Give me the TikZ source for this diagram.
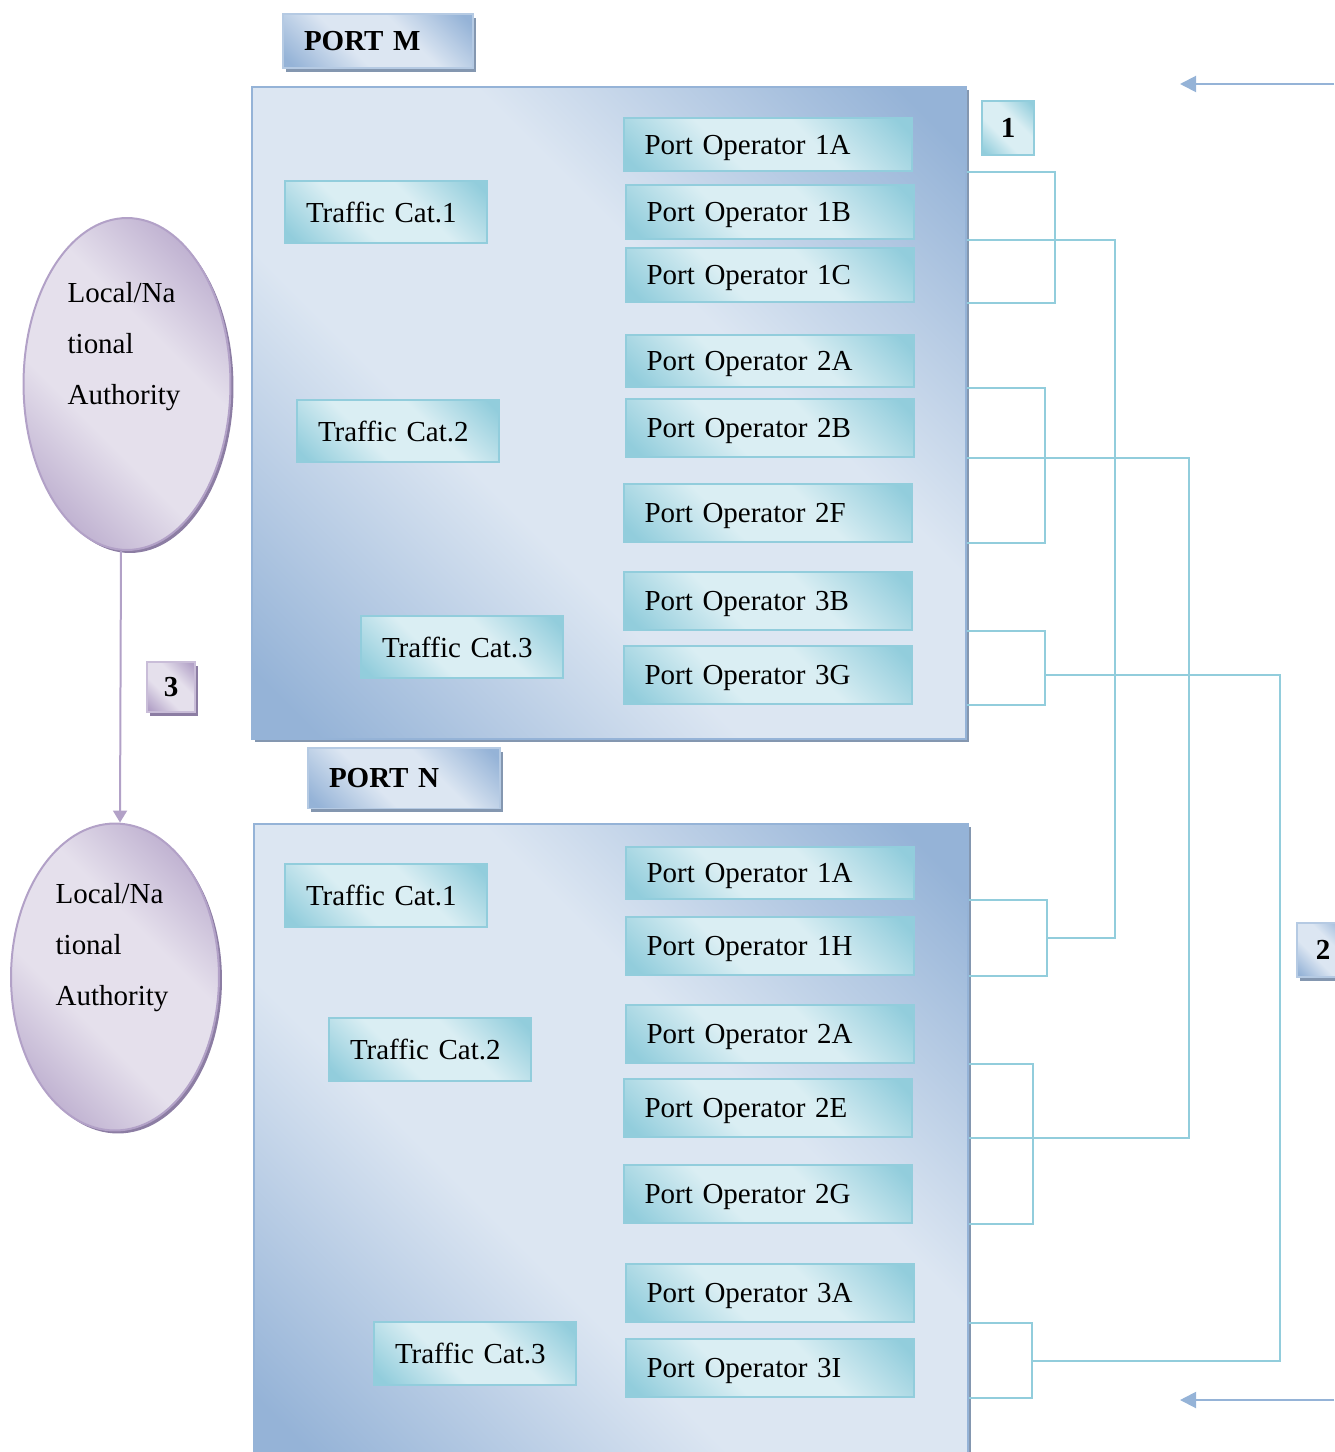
\documentclass[tikz,border=0pt]{standalone}
\usepackage{fontspec}
\setmainfont{Liberation Serif}
\usepackage{xcolor}
\usepackage{tikz}
\usetikzlibrary{shapes, arrows.meta, positioning, calc, shadows}

\definecolor{portblue}{HTML}{95B3D7}
\definecolor{portlight}{HTML}{DCE6F2}
\definecolor{opteal}{HTML}{92CDDC}
\definecolor{oplight}{HTML}{DAEEF3}
\definecolor{lapurple}{HTML}{B2A1C7}
\definecolor{lalight}{HTML}{E5E0EC}
\definecolor{shadowblue}{HTML}{8497B0}
\definecolor{shadowpurple}{HTML}{8C7DA3}

% light band between two coloured corners
\pgfdeclareverticalshading{bandblue}{100bp}{color(0bp)=(portblue); color(18bp)=(portblue);
  color(40bp)=(portlight); color(60bp)=(portlight); color(82bp)=(portblue); color(100bp)=(portblue)}
\pgfdeclareverticalshading{bandteal}{100bp}{color(0bp)=(opteal); color(18bp)=(opteal);
  color(40bp)=(oplight); color(60bp)=(oplight); color(82bp)=(opteal); color(100bp)=(opteal)}
\pgfdeclareverticalshading{bandpurple}{100bp}{color(0bp)=(lapurple); color(18bp)=(lapurple);
  color(40bp)=(lalight); color(60bp)=(lalight); color(82bp)=(lapurple); color(100bp)=(lapurple)}

\tikzset{
  boxfont/.style={font=\fontsize{16.5}{20}\selectfont},
  opbox/.style={draw=opteal, line width=0.04cm, shade, shading=bandteal, shading angle=-45,
    boxfont, align=left, inner xsep=0.42cm, text width=4.94cm, text depth=0pt,
    minimum height=1.16cm},
  catbox/.style={opbox, text width=3.2cm, minimum height=1.26cm},
  bigbox/.style={draw=portblue, line width=0.04cm, shade, shading=bandblue, shading angle=-45,
    minimum width=14.28cm, minimum height=13.06cm,
    drop shadow={shadow xshift=0.06cm, shadow yshift=-0.06cm, fill=shadowblue, opacity=1}},
  portbox/.style={draw=portblue!70, line width=0.04cm, shade, shading=bandblue, shading angle=-45,
    font=\fontsize{16.5}{20}\selectfont\bfseries, align=left, inner xsep=0.42cm,
    text width=2.96cm, text depth=0pt, minimum height=1.08cm,
    drop shadow={shadow xshift=0.06cm, shadow yshift=-0.08cm, fill=shadowblue, opacity=1}},
  numbox/.style={draw=opteal, line width=0.04cm, shade, shading=bandteal, shading angle=-45,
    font=\fontsize{16.5}{20}\selectfont\bfseries, text depth=0pt,
    minimum width=1.04cm, minimum height=1.08cm},
  numblue/.style={numbox, draw=portblue!70, shading=bandblue, shading angle=-45,
    drop shadow={shadow xshift=0.06cm, shadow yshift=-0.08cm, fill=shadowblue, opacity=1}},
  numpurple/.style={numbox, draw=lapurple!70, shading=bandpurple, shading angle=-45,
    minimum width=0.96cm, minimum height=1cm,
    drop shadow={shadow xshift=0.06cm, shadow yshift=-0.08cm, fill=shadowpurple, opacity=1}},
  laell/.style={ellipse, draw=lapurple, line width=0.04cm, shade, shading=bandpurple,
    shading angle=-45, minimum width=4.14cm, minimum height=6.64cm,
    drop shadow={shadow xshift=0.06cm, shadow yshift=-0.06cm, fill=shadowpurple, opacity=1}},
  latext/.style={font=\fontsize{16.5}{29}\selectfont, align=left, inner sep=0pt},
  link/.style={draw=opteal, line width=0.04cm},
  inarrow/.style={draw=portblue, line width=0.04cm, -{Triangle[length=0.32cm, width=0.32cm]}},
  laarrow/.style={draw=lapurple, line width=0.04cm, -{Triangle[length=0.24cm, width=0.28cm]}}
}

\begin{document}
\begin{tikzpicture}[x=0.02cm, y=-0.02cm]
        \useasboundingbox (0,0) rectangle (1334,1452);

        % Port M
        \node[portbox] (portm) at (378,41) {PORT M};
        \node[bigbox] (mbox) at (609,413) {};
        \node[catbox] (mt1) at (386,212) {Traffic Cat.1};
        \node[catbox] (mt2) at (398,431) {Traffic Cat.2};
        \node[catbox] (mt3) at (462,647) {Traffic Cat.3};
        \node[opbox, minimum height=1.06cm] (m1a) at (768,145) {Port Operator 1A};
        \node[opbox, minimum height=1.08cm] (m1b) at (770,212) {Port Operator 1B};
        \node[opbox, minimum height=1.08cm] (m1c) at (770,275) {Port Operator 1C};
        \node[opbox, minimum height=1.04cm] (m2a) at (770,361) {Port Operator 2A};
        \node[opbox] (m2b) at (770,428) {Port Operator 2B};
        \node[opbox] (m2f) at (768,513) {Port Operator 2F};
        \node[opbox] (m3b) at (768,601) {Port Operator 3B};
        \node[opbox] (m3g) at (768,675) {Port Operator 3G};

        % Port N
        \node[portbox, text width=3cm, minimum height=1.22cm] (portn) at (404,778) {PORT N};
        \node[bigbox, minimum height=12.8cm] (nbox) at (611,1144) {};
        \node[catbox] (nt1) at (386,895) {Traffic Cat.1};
        \node[catbox] (nt2) at (430,1049) {Traffic Cat.2};
        \node[catbox] (nt3) at (475,1353) {Traffic Cat.3};
        \node[opbox, minimum height=1.04cm] (n1a) at (770,873) {Port Operator 1A};
        \node[opbox] (n1h) at (770,946) {Port Operator 1H};
        \node[opbox] (n2a) at (770,1034) {Port Operator 2A};
        \node[opbox] (n2e) at (768,1108) {Port Operator 2E};
        \node[opbox] (n2g) at (768,1194) {Port Operator 2G};
        \node[opbox] (n3a) at (770,1293) {Port Operator 3A};
        \node[opbox] (n3i) at (770,1368) {Port Operator 3I};

        % authorities
        \node[laell] (la1) at (127,384) {};
        \node[laell, minimum width=4.16cm, minimum height=6.14cm] (la2) at (115,977) {};
        \node[latext] (la1txt) at ([xshift=-0.06cm, yshift=0.75cm]la1.center) {Local/Na\\tional\\Authority};
        \node[latext] (la2txt) at ([xshift=-0.06cm, yshift=0.58cm]la2.center) {Local/Na\\tional\\Authority};
        \draw[laarrow] ([xshift=-0.12cm]la1.south) -- ([xshift=0.1cm]la2.north);

        \node[numbox] (num1) at (1008,128) {1};
        \node[numblue] (num2) at (1323,950) {2};
        \node[numpurple] (num3) at (171,687) {3};

        % brackets
        \draw[link] (m1a.south -| mbox.east) -- ++(88,0) |- (m1c.south -| mbox.east);
        \draw[link] (m2a.south -| mbox.east) -- ++(78,0) |- (m2f.south -| mbox.east);
        \draw[link] (m3b.south -| mbox.east) -- ++(78,0) |- (m3g.south -| mbox.east);
        \draw[link] (n1a.south -| nbox.east) -- ++(78,0) |- (n1h.south -| nbox.east);
        \draw[link] (n2a.south -| nbox.east) -- ++(64,0) |- (n2g.south -| nbox.east);
        \draw[link] (n3a.south -| nbox.east) -- ++(63,0) |- (n3i.south -| nbox.east);

        \coordinate (m3k) at ($(m3g.west -| mbox.east)+(78,0)$);
        \coordinate (n1k) at ($(n1a.south -| nbox.east)!0.5!(n1h.south -| nbox.east)+(78,0)$);
        \coordinate (n3k) at ($(n3a.south -| nbox.east)!0.5!(n3i.south -| nbox.east)+(63,0)$);

        % trunks
        \draw[link] (m1b.south -| mbox.east) -| ([xshift=1.36cm]n1k) -- (n1k);
        \draw[link] (m2b.south -| mbox.east) -| ([xshift=4.4cm]n2e.south -| nbox.east)
          -- (n2e.south -| nbox.east);
        \draw[link] (m3k) -| ([xshift=4.96cm]n3k) -- (n3k);

        % incoming
        \coordinate (inm) at (1334,84);
        \coordinate (inmtip) at (1180,84);
        \coordinate (inn) at (1334,1400);
        \coordinate (inntip) at (1180,1400);
        \draw[inarrow] (inm) -- (inmtip);
        \draw[inarrow] (inn) -- (inntip);
      \end{tikzpicture}
\end{document}
